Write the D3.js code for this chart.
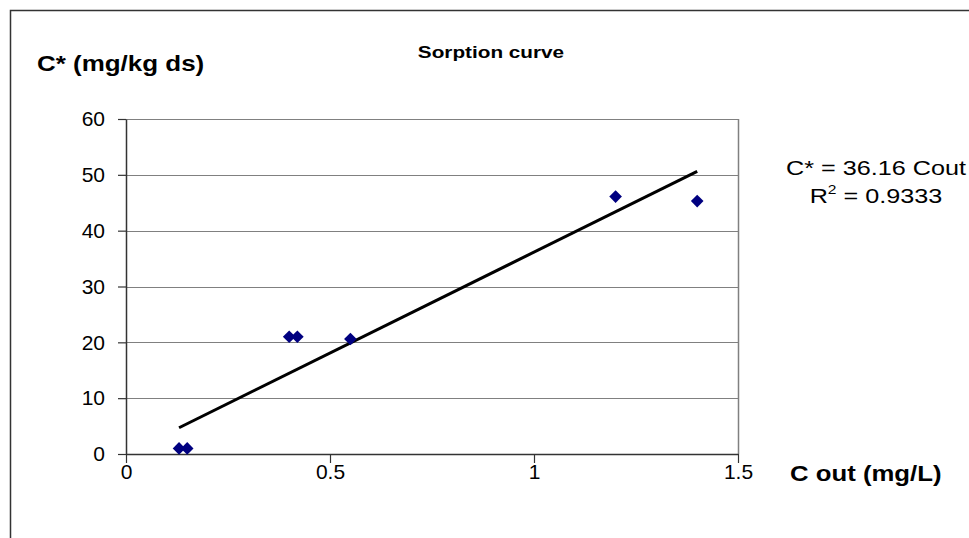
<!DOCTYPE html>
<html>
<head>
<meta charset="utf-8">
<script src="https://cdn.jsdelivr.net/npm/d3@7"></script>
<style>
  body { margin: 0; background: #fff; }
  text { font-family: Arial, "Liberation Sans", sans-serif; }
</style>
</head>
<body>
<div id="chart"></div>
<script>
// data
const cOut = [0.13, 0.15, 0.40, 0.42, 0.55, 1.20, 1.40]
const cStar = [1, 1, 21, 21, 20.6, 46.1, 45.3]
const slope = 36.16
const rSquared = '0.9333'
const xTicks = [0, 0.5, 1, 1.5]
const yTicks = [0, 10, 20, 30, 40, 50, 60]

const width = 969
const height = 538
const plot = { left: 126, right: 738, top: 119, bottom: 454 }

const svg = d3.select('#chart').append('svg')
    .attr('width', width)
    .attr('height', height)

// chart frame, only the left and top edges show in the picture
svg.append('path')
    .attr('d', `M10.5,${height} V10.5 H${width}`)
    .attr('fill', 'none')
    .attr('stroke', '#333')
    .attr('stroke-width', 1.5)

const x = d3.scaleLinear().domain([0, 1.5]).range([plot.left, plot.right])
const y = d3.scaleLinear().domain([0, 60]).range([plot.bottom, plot.top])

// gridlines
svg.append('g')
    .selectAll('line')
    .data(yTicks.slice(1))
    .join('line')
    .attr('x1', plot.left)
    .attr('x2', plot.right)
    .attr('y1', d => Math.round(y(d)) + 0.5)
    .attr('y2', d => Math.round(y(d)) + 0.5)
    .attr('stroke', '#808080')
    .attr('stroke-width', 1)

// plot area right edge
svg.append('line')
    .attr('x1', plot.right + 0.5).attr('x2', plot.right + 0.5)
    .attr('y1', plot.top).attr('y2', plot.bottom)
    .attr('stroke', '#808080')
    .attr('stroke-width', 1.5)

const xAxis = svg.append('g')
    .attr('transform', `translate(0, ${plot.bottom})`)
    .call(d3.axisBottom(x).tickValues(xTicks).tickSize(9).tickSizeOuter(0).tickFormat(d3.format('')))
const yAxis = svg.append('g')
    .attr('transform', `translate(${plot.left}, 0)`)
    .call(d3.axisLeft(y).tickValues(yTicks).tickSize(8).tickSizeOuter(0))

for (const g of [xAxis, yAxis]) {
    g.select('.domain').attr('stroke', '#333').attr('stroke-width', 1.5)
    g.selectAll('.tick line').attr('stroke', '#333').attr('stroke-width', 1.2)
    g.selectAll('.tick text')
        .attr('fill', '#000')
        .style('font-size', '21px')
}
xAxis.selectAll('.tick text').attr('y', 10)
yAxis.selectAll('.tick text').attr('x', -21)

// linear trend through the origin
const trend = d3.line()
    .x(d => x(d))
    .y(d => y(slope * d))
svg.append('path')
    .datum(d3.extent(cOut))
    .attr('d', trend)
    .attr('stroke', '#000')
    .attr('stroke-width', 3)
    .attr('fill', 'none')

// markers
const diamond = d3.symbol().type(d3.symbolSquare).size(80)
svg.append('g')
    .selectAll('path')
    .data(cOut)
    .join('path')
    .attr('d', diamond)
    .attr('transform', (d, i) => `translate(${x(d)}, ${y(cStar[i])}) rotate(45)`)
    .attr('fill', '#000080')

// texts, the original lettering is a bit wider than it is tall
const label = (txt, px, py, size, bold, stretch, anchor) => svg.append('text')
    .attr('transform', `translate(${px}, ${py}) scale(${stretch},1)`)
    .attr('text-anchor', anchor || 'start')
    .style('font-size', size + 'px')
    .style('font-weight', bold ? 'bold' : 'normal')
    .text(txt)

label('Sorption curve', 491, 58, 17, true, 1.22, 'middle')
label('C* (mg/kg ds)', 37, 71, 22, true, 1.18)
label('C out (mg/L)', 790, 481, 22, true, 1.17)
label(`C* = ${slope} Cout`, 786, 175, 21, false, 1.2)
const r2 = svg.append('text')
    .attr('transform', `translate(876, 203) scale(1.2,1)`)
    .attr('text-anchor', 'middle')
    .style('font-size', '21px')
r2.append('tspan').text('R')
r2.append('tspan').attr('dy', -9).style('font-size', '13px').text('2')
r2.append('tspan').attr('dy', 9).text(` = ${rSquared}`)
</script>
</body>
</html>
